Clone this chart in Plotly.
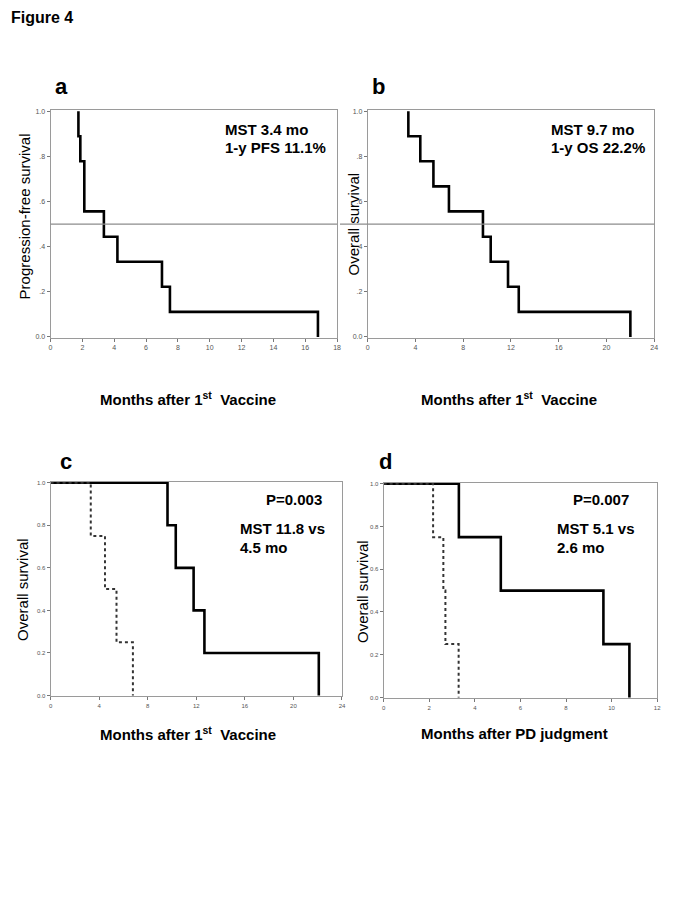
import plotly.graph_objects as go

W, H = 685, 913

# ---------------- data ----------------
# Panel a: progression-free survival (n=9)
a_times = [1.75, 1.87, 2.12, 3.35, 4.2, 7.0, 7.5, 16.8]
a_surv = [0.889, 0.778, 0.556, 0.444, 0.333, 0.222, 0.111, 0.0]
# Panel b: overall survival (n=9)
b_times = [3.4, 4.4, 5.5, 6.8, 9.65, 10.3, 11.75, 12.65, 22.0]
b_surv = [0.889, 0.778, 0.667, 0.556, 0.444, 0.333, 0.222, 0.111, 0.0]
# Panel c: OS after 1st vaccine, two groups
c1_times = [9.63, 10.31, 11.78, 12.67, 22.09]
c1_surv = [0.8, 0.6, 0.4, 0.2, 0.0]
c2_times = [3.31, 4.48, 5.43, 6.78]
c2_surv = [0.75, 0.5, 0.25, 0.0]
# Panel d: OS after PD judgment, two groups
d1_times = [3.30, 5.14, 9.64, 10.78]
d1_surv = [0.75, 0.5, 0.25, 0.0]
d2_times = [2.17, 2.62, 2.71, 3.29]
d2_surv = [0.75, 0.5, 0.25, 0.0]

ab_yticks = [0, 0.2, 0.4, 0.6, 0.8, 1.0]
ab_ytext = ["0.0", ".2", ".4", ".6", ".8", "1.0"]
cd_ytext = ["0.0", "0.2", "0.4", "0.6", "0.8", "1.0"]
a_xticks = list(range(0, 19, 2))
b_xticks = list(range(0, 25, 4))
c_xticks = list(range(0, 25, 4))
d_xticks = list(range(0, 13, 2))


def px(x):
    return x / W


def py(y):
    return 1 - y / H


FONT = "Arial, Liberation Sans, sans-serif"
fig = go.Figure()


def km(times, surv, start_zero):
    xs = ([0] if start_zero else [times[0]]) + times
    ys = [1.0] + surv
    return xs, ys


def add_curve(times, surv, axis, dash="solid", start_zero=True, width=2.6, color="black"):
    xs, ys = km(times, surv, start_zero)
    fig.add_trace(go.Scatter(x=xs, y=ys, mode="lines", line_shape="hv",
                             line=dict(color=color, width=width, dash=dash),
                             xaxis="x" + axis, yaxis="y" + axis, showlegend=False,
                             hoverinfo="skip"))


add_curve(a_times, a_surv, "", start_zero=False)
add_curve(b_times, b_surv, "2", start_zero=False)
add_curve(c1_times, c1_surv, "3")
add_curve(c2_times, c2_surv, "3", dash="dot", width=2, color="#333")
add_curve(d1_times, d1_surv, "4")
add_curve(d2_times, d2_surv, "4", dash="dot", width=2, color="#333")

doms = {
    "": ([49, 338], [108, 337], [0, 18], a_xticks, ab_ytext, 7),
    "2": ([369, 658], [108, 337], [0, 24], b_xticks, ab_ytext, 7),
    "3": ([49, 343], [482, 698], [0, 24], c_xticks, cd_ytext, 6),
    "4": ([385, 661], [483, 700], [0, 12], d_xticks, cd_ytext, 6),
}

layout = dict(width=W, height=H, margin=dict(l=0, r=0, t=0, b=0),
              paper_bgcolor="white", plot_bgcolor="white", showlegend=False)
for k, (xd, yd, xr, xt, yt, fs) in doms.items():
    axstyle = dict(showline=True, mirror=True, linecolor="#9a9a9a", linewidth=1,
                   ticks="outside", ticklen=3, tickcolor="#777", tickwidth=1,
                   showgrid=False, zeroline=False,
                   tickfont=dict(family=FONT, size=fs, color="#555"))
    layout["xaxis" + k] = dict(domain=[px(xd[0]), px(xd[1])], range=[xr[0], xr[1]],
                               tickvals=xt, anchor="y" + k, **axstyle)
    layout["yaxis" + k] = dict(domain=[py(yd[1]), py(yd[0])], range=[-0.004, 1.004],
                               tickvals=ab_yticks, ticktext=yt, anchor="x" + k, **axstyle)
fig.update_layout(**layout)

# median reference lines in a and b
fig.add_shape(type="line", xref="paper", yref="y", x0=px(49), x1=px(338), y0=0.5, y1=0.5,
              line=dict(color="#8c8c8c", width=1.2))
fig.add_shape(type="line", xref="paper", yref="y2", x0=px(341), x1=px(658), y0=0.5, y1=0.5,
              line=dict(color="#8c8c8c", width=1.2))

anns = []


def txt(x, y, s, size=15, bold=True, xanchor="left", angle=0, yanchor="middle"):
    anns.append(dict(x=px(x), y=py(y), xref="paper", yref="paper", text=s, showarrow=False,
                     xanchor=xanchor, yanchor=yanchor, textangle=angle,
                     font=dict(family=FONT, size=size, color="black",
                               weight="bold" if bold else "normal")))


txt(7, 15, "Figure 4", size=16)
# panel letters
txt(60, 84, "a", size=22, xanchor="center")
txt(380, 84, "b", size=22, xanchor="center")
txt(65, 462, "c", size=22, xanchor="center")
txt(387, 462, "d", size=22, xanchor="center")

# in-plot annotations
txt(223, 127, "MST 3.4 mo")
txt(223, 145, "1-y PFS 11.1%")
txt(552, 127, "MST 9.7 mo")
txt(552, 145, "1-y OS 22.2%")
txt(325, 500, "P=0.003", xanchor="right")
txt(238, 529, "MST 11.8 vs")
txt(238, 548, "4.5 mo")
txt(635, 500, "P=0.007", xanchor="right")
txt(558, 529, "MST 5.1 vs")
txt(558, 548, "2.6 mo")

# axis titles
xt1 = "Months after 1<sup>st</sup>  Vaccine"
txt(188, 398, xt1, xanchor="center")
txt(511, 398, xt1, xanchor="center")
txt(188, 735, xt1, xanchor="center")
txt(517, 735, "Months after PD judgment", xanchor="center")
txt(23, 215, "Progression-free survival", bold=False, xanchor="center", angle=-90)
txt(355, 222, "Overall survival", bold=False, xanchor="center", angle=-90)
txt(20, 590, "Overall survival", bold=False, xanchor="center", angle=-90)
txt(363, 592, "Overall survival", bold=False, xanchor="center", angle=-90)

fig.update_layout(annotations=anns)
fig.write_html("out.html", config={"displayModeBar": False},
               post_script="document.body.style.margin='0';document.body.style.padding='0';")
